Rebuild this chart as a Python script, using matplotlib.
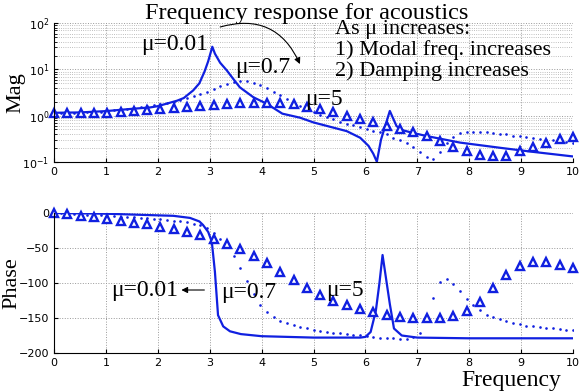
import numpy as np
import matplotlib.pyplot as plt
from matplotlib.ticker import LogLocator, NullFormatter, MultipleLocator

# frequency grids for the sampled curves
f_tri = np.linspace(0, 10, 40)   # mu = 5
f_dot = np.linspace(0, 10, 79)   # mu = 0.7

# mu = 0.01 (solid)
f_mag_001 = [0, 0.5, 1.0, 1.5, 1.85, 2.0, 2.37, 2.5, 2.68, 2.8, 2.9, 2.97, 3.05,
             3.1, 3.2, 3.33, 3.45, 3.58, 3.84, 4.1, 4.4, 4.74, 5.0, 5.64, 5.9,
             6.06, 6.15, 6.22, 6.3, 6.4, 6.47, 6.6, 6.72, 6.92, 7.18, 7.82,
             8.6, 9.2, 10]
mag_001 = [1.15, 1.17, 1.25, 1.4, 1.5, 1.6, 2.1, 2.4, 3.5, 5.0, 9.0, 15, 31,
           22, 14, 9.5, 6.3, 4.1, 2.5, 1.8, 1.1, 0.9, 0.71, 0.46, 0.33,
           0.22, 0.15, 0.1, 0.3, 0.7, 1.26, 0.59, 0.48, 0.42, 0.36, 0.26,
           0.2, 0.165, 0.13]

f_ph_001 = [0, 1.0, 1.85, 2.3, 2.62, 2.8, 2.87, 2.97, 3.04, 3.1, 3.16, 3.26,
            3.39, 3.6, 4.0, 5.0, 5.9, 6.0, 6.1, 6.2, 6.27, 6.33, 6.4, 6.47,
            6.55, 6.7, 7.0, 8.0, 10]
ph_001 = [0, -1, -3, -4, -7, -12, -17, -27, -41, -84, -146, -162,
          -169, -173, -176, -178, -178, -177, -170, -140, -100, -60, -95, -130,
          -165, -175, -178, -179, -179]

# mu = 0.7 (dots)
mag_07 = [1.15, 1.15, 1.15, 1.16, 1.17, 1.18, 1.20, 1.22, 1.25, 1.29,
          1.33, 1.39, 1.45, 1.52, 1.60, 1.67, 1.76, 1.88, 2.0, 2.2,
          2.4, 2.65, 2.95, 3.3, 3.75, 4.3, 4.9, 5.4, 5.7, 5.6,
          5.1, 4.5, 3.9, 3.3, 2.75, 2.3, 1.95, 1.65, 1.4, 1.2,
          1.05, 0.93, 0.83, 0.74, 0.67, 0.61, 0.56, 0.51, 0.47, 0.43,
          0.40, 0.33, 0.29, 0.26, 0.21, 0.165, 0.125, 0.115, 0.16, 0.26,
          0.34, 0.41, 0.44, 0.45, 0.45, 0.44, 0.42, 0.40, 0.39, 0.37,
          0.355, 0.34, 0.32, 0.31, 0.30, 0.29, 0.28, 0.27, 0.26]
ph_07 = [0, -0.5, -1, -1.5, -2, -2.5, -3, -3.5, -4, -4.5,
         -5, -5.5, -6, -7, -7.5, -8, -9, -10, -11, -12,
         -13.5, -15, -17, -21, -28, -37, -48, -61, -78, -97,
         -116, -132, -142, -149, -154, -157, -160, -163, -165, -167,
         -168, -169.5, -171, -172, -173, -174, -175, -176, -177, -178,
         -178.5, -179, -179.5, -179.5, -177, -171, -150, -121, -99, -94,
         -101, -112, -123, -132, -139, -145, -149, -152, -155, -157,
         -159, -161, -162, -163, -164, -165, -166, -166.5, -167]

# mu = 5 (triangles)
mag_5 = [1.12, 1.12, 1.13, 1.14, 1.16, 1.19, 1.24, 1.3, 1.37, 1.43,
         1.5, 1.58, 1.66, 1.75, 1.84, 1.9, 1.92, 1.88, 1.75, 1.55,
         1.38, 1.2, 1.0, 0.86, 0.72, 0.6, 0.5, 0.44, 0.36, 0.28,
         0.21, 0.17, 0.14, 0.13, 0.135, 0.17, 0.21, 0.26, 0.31, 0.35]
ph_5 = [0, -2, -4, -6, -9, -11, -14, -16, -19.5, -23,
        -27.5, -31, -37.5, -44, -52, -61, -72, -84, -96, -107,
        -117, -125, -131, -137, -141, -145, -148, -150, -150, -150,
        -147, -140, -127, -107, -88, -76, -70, -70, -74, -79]

note = 'As μ increases:\n1) Modal freq. increases\n2) Damping increases'

blue = '#1020e0'
serif = ['Liberation Serif', 'DejaVu Serif']

fig = plt.figure(figsize=(5.79, 3.91), dpi=100)
ax1 = fig.add_axes([0.0933, 0.5864, 0.8964, 0.354])
ax2 = fig.add_axes([0.0933, 0.0972, 0.8964, 0.358])

# magnitude
ax1.semilogy(f_mag_001, mag_001, '-', color=blue, lw=1.6)
ax1.semilogy(f_dot, mag_07, 'o', color=blue, ms=1.9, mew=0)
ax1.semilogy(f_tri, mag_5, '^', color=blue, ms=6, mfc='white', mew=1.7,
             clip_on=False)
ax1.set_xlim(0, 10)
ax1.set_ylim(0.1, 100)
ax1.yaxis.set_major_locator(LogLocator(base=10, numticks=5))
ax1.yaxis.set_minor_locator(LogLocator(base=10, subs=np.arange(2, 10), numticks=10))
ax1.yaxis.set_minor_formatter(NullFormatter())
ax1.grid(True, which='major', axis='both', ls=':', color='#999999', lw=0.7)
ax1.grid(True, which='minor', axis='y', ls=':', color='#aaaaaa', lw=0.6)
ax1.set_ylabel('Mag', family=serif, fontsize=16, labelpad=-2)

# phase
ax2.plot(f_ph_001, ph_001, '-', color=blue, lw=1.6)
ax2.plot(f_dot, ph_07, 'o', color=blue, ms=1.9, mew=0)
ax2.plot(f_tri, ph_5, '^', color=blue, ms=6, mfc='white', mew=1.7,
         clip_on=False)
ax2.set_xlim(0, 10)
ax2.set_ylim(-200, 0)
ax2.yaxis.set_major_locator(MultipleLocator(50))
ax2.grid(True, ls=':', color='#999999', lw=0.7)
ax2.set_ylabel('Phase', family=serif, fontsize=16, labelpad=-2)

for ax in (ax1, ax2):
    ax.xaxis.set_major_locator(MultipleLocator(1))
    ax.spines['top'].set_visible(False)
    ax.spines['right'].set_visible(False)
    ax.tick_params(direction='in', labelsize=8, length=3)
    ax.tick_params(which='minor', direction='in', length=2)
    ax.set_axisbelow(True)

fig.text(0.53, 0.966, 'Frequency response for acoustics', family=serif,
         fontsize=17.5, ha='center', va='center')

# magnitude annotations
ax1.text(1.68, 34, 'μ=0.01', family=serif, fontsize=17, va='center')
ax1.text(3.48, 11, 'μ=0.7', family=serif, fontsize=17, va='center')
ax1.text(4.84, 2.2, 'μ=5', family=serif, fontsize=17, va='center')
ax1.annotate('', xy=(4.76, 11.5), xytext=(3.15, 80),
             arrowprops=dict(arrowstyle='-|>', color='black', lw=0.8,
                             mutation_scale=9,
                             connectionstyle='arc3,rad=-0.45'))
ax1.text(5.42, 26, note, family=serif, fontsize=16, va='center',
         linespacing=1.08)

# phase annotations
ax2.text(1.1, -110, 'μ=0.01', family=serif, fontsize=17, va='center')
ax2.annotate('', xy=(2.4, -110), xytext=(2.95, -110),
             arrowprops=dict(arrowstyle='-|>', color='black', lw=0.8,
                             mutation_scale=9))
ax2.text(3.22, -114, 'μ=0.7', family=serif, fontsize=17, va='center')
ax2.text(5.25, -110, 'μ=5', family=serif, fontsize=17, va='center')
fig.text(0.883, 0.027, 'Frequency', family=serif, fontsize=17,
         ha='center', va='center')

fig.savefig('out.png', dpi=100)
